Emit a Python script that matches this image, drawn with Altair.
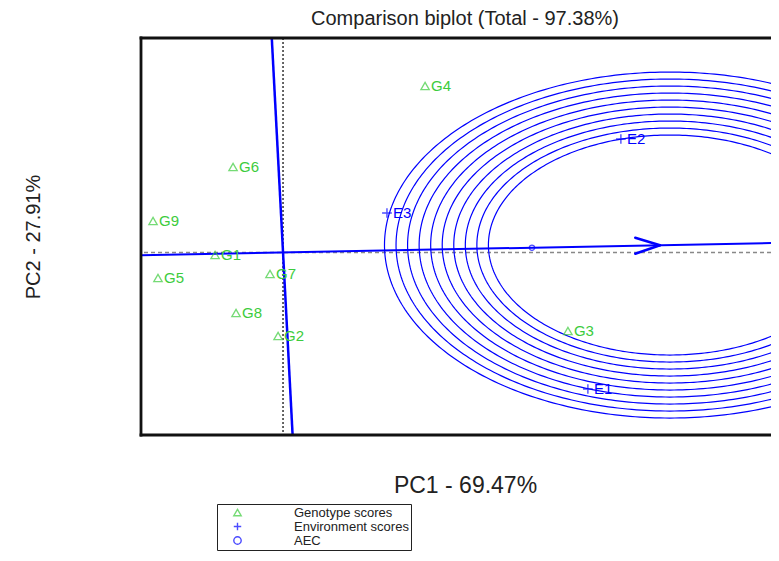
import altair as alt
import numpy as np
import pandas as pd

GREEN = "#3ccc3c"
BLUE = "#0000ff"
FONT = "Liberation Sans"

# Genotype scores (PC1, PC2)
gen_names = ["G1", "G2", "G3", "G4", "G5", "G6", "G7", "G8", "G9"]
gen_pc1 = [-0.412, -0.030, 1.727, 0.861, -0.758, -0.303, -0.079, -0.285, -0.788]
gen_pc2 = [-0.025, -0.835, -0.785, 1.665, -0.255, 0.855, -0.215, -0.605, 0.315]

# Environment scores
env_names = ["E1", "E2", "E3"]
env_pc1 = [1.848, 2.048, 0.630]
env_pc2 = [-1.365, 1.135, 0.395]

# Average environment coordinate
aec_pc1 = [1.509]
aec_pc2 = [0.048]

# Ideal environment (centre of concentric circles) and ring radii
ideal_pc1 = 2.345
ring_radii = [1.10, 1.17, 1.24, 1.31, 1.38, 1.45, 1.52, 1.59, 1.66, 1.73]

# Arrow tip along the AEC
arrow_tip_pc1 = 2.285
arrow_back_pc1 = 2.135
arrow_half = 0.08

x_domain = [-0.861, 2.958]
y_domain = [-1.825, 2.145]

legend_labels = ["Genotype scores", "Environment scores", "AEC"]
PLUS = "M-1,0H1M0,-1V1"

slope = aec_pc2[0] / aec_pc1[0]
ideal_pc2 = slope * ideal_pc1

gen_df = pd.DataFrame({"name": gen_names, "PC1": gen_pc1, "PC2": gen_pc2, "kind": legend_labels[0]})
env_df = pd.DataFrame({"name": env_names, "PC1": env_pc1, "PC2": env_pc2, "kind": legend_labels[1]})
aec_df = pd.DataFrame({"PC1": aec_pc1, "PC2": aec_pc2, "kind": legend_labels[2]})

theta = np.linspace(0, 2 * np.pi, 361)
ring_rows = []
for i, r in enumerate(ring_radii):
    for j, t in enumerate(theta):
        ring_rows.append({"ring": i, "k": j,
                          "PC1": ideal_pc1 + r * np.cos(t),
                          "PC2": ideal_pc2 + r * np.sin(t)})
ring_df = pd.DataFrame(ring_rows)

aec_line_df = pd.DataFrame({"PC1": [x_domain[0]], "PC2": [slope * x_domain[0]],
                            "PC1e": [x_domain[1]], "PC2e": [slope * x_domain[1]]})
perp_df = pd.DataFrame({"PC1": [-slope * y_domain[1]], "PC2": [y_domain[1]],
                        "PC1e": [-slope * y_domain[0]], "PC2e": [y_domain[0]]})
tip_y = slope * arrow_tip_pc1
back_y = slope * arrow_back_pc1
arrow_df = pd.DataFrame({"PC1": [arrow_back_pc1, arrow_back_pc1],
                         "PC2": [back_y + arrow_half, back_y - arrow_half],
                         "PC1e": [arrow_tip_pc1, arrow_tip_pc1],
                         "PC2e": [tip_y, tip_y]})


def X(field="PC1"):
    return alt.X(f"{field}:Q",
                 scale=alt.Scale(domain=x_domain, nice=False, zero=False),
                 axis=alt.Axis(title="PC1 - 69.47%", labels=False, ticks=False, domain=False,
                               grid=False, titleFont=FONT, titleFontSize=23,
                               titleFontWeight="normal", titleColor="#222", titlePadding=39,
                               titleX=324, titleAlign="center"))


def Y(field="PC2"):
    return alt.Y(f"{field}:Q",
                 scale=alt.Scale(domain=y_domain, nice=False, zero=False),
                 axis=alt.Axis(title="PC2 - 27.91%", labels=False, ticks=False, domain=False,
                               grid=False, titleFont=FONT, titleFontSize=20,
                               titleFontWeight="normal", titleColor="#222", titlePadding=98))


leg = alt.Legend(title=None, orient="none", legendX=76, legendY=466, padding=2,
                 symbolOffset=12, labelOffset=50, rowPadding=-2, labelFont=FONT,
                 labelFontSize=13, labelColor="#222", strokeColor="#222", fillColor="white",
                 symbolSize=55, symbolStrokeWidth=1.4)
color = alt.Color("kind:N", scale=alt.Scale(domain=legend_labels, range=[GREEN, BLUE, BLUE]), legend=leg)
shape = alt.Shape("kind:N", scale=alt.Scale(domain=legend_labels, range=["triangle-up", PLUS, "circle"]), legend=leg)

# frame (left, top, bottom) drawn on the domain limits
frame_h = alt.Chart(pd.DataFrame({"PC2": y_domain})).mark_rule(
    color="#111", strokeWidth=2.8, strokeCap="square").encode(y=Y())
frame_v = alt.Chart(pd.DataFrame({"PC1": [x_domain[0]]})).mark_rule(
    color="#111", strokeWidth=2.8, strokeCap="square").encode(x=X())

zero_h = alt.Chart(pd.DataFrame({"PC2": [0.0]})).mark_rule(
    strokeDash=[4, 3], color="#888", strokeWidth=1.5).encode(y=Y())
zero_v = alt.Chart(pd.DataFrame({"PC1": [0.0]})).mark_rule(
    strokeDash=[2, 2], color="#333", strokeWidth=1.5).encode(x=X())

rings = alt.Chart(ring_df).mark_line(color=BLUE, strokeWidth=1.2, clip=True).encode(
    x=X(), y=Y(), detail="ring:N", order="k:Q")

aec_line = alt.Chart(aec_line_df).mark_rule(color=BLUE, strokeWidth=2, clip=True).encode(
    x=X(), y=Y(), x2="PC1e:Q", y2="PC2e:Q")
perp_line = alt.Chart(perp_df).mark_rule(color=BLUE, strokeWidth=2.5, clip=True).encode(
    x=X(), y=Y(), x2="PC1e:Q", y2="PC2e:Q")
arrow = alt.Chart(arrow_df).mark_rule(color=BLUE, strokeWidth=2.5, strokeCap="round").encode(
    x=X(), y=Y(), x2="PC1e:Q", y2="PC2e:Q")

aec_pt = alt.Chart(aec_df).mark_point(filled=False, size=28, strokeWidth=1.3).encode(
    x=X(), y=Y(), color=color, shape=shape)
env_pt = alt.Chart(env_df).mark_point(filled=False, size=95, strokeWidth=1.4).encode(
    x=X(), y=Y(), color=color, shape=shape)
gen_pt = alt.Chart(gen_df).mark_point(filled=False, size=70, strokeWidth=1.3).encode(
    x=X(), y=Y(), color=color, shape=shape)

gen_text = alt.Chart(gen_df).mark_text(align="left", baseline="middle", dx=6, font=FONT,
                                       fontSize=15, color=GREEN).encode(x=X(), y=Y(), text="name:N")
env_text = alt.Chart(env_df).mark_text(align="left", baseline="middle", dx=6, font=FONT,
                                       fontSize=15, color=BLUE).encode(x=X(), y=Y(), text="name:N")

chart = alt.layer(zero_h, zero_v, rings, aec_line, perp_line, arrow,
                  aec_pt, env_pt, gen_pt, gen_text, env_text, frame_h, frame_v).properties(
    width=630, height=397,
    title=alt.TitleParams("Comparison biplot (Total - 97.38%)", font=FONT, fontSize=20,
                          fontWeight="normal", color="#222", anchor="middle", frame="group",
                          offset=7, dx=9),
    padding={"left": 133, "top": 30, "right": 0, "bottom": 116},
    autosize=alt.AutoSizeParams(type="none"),
).configure_view(stroke="transparent").configure(background="white")

chart.save("out.html", embed_options={"renderer": "svg", "actions": False})
